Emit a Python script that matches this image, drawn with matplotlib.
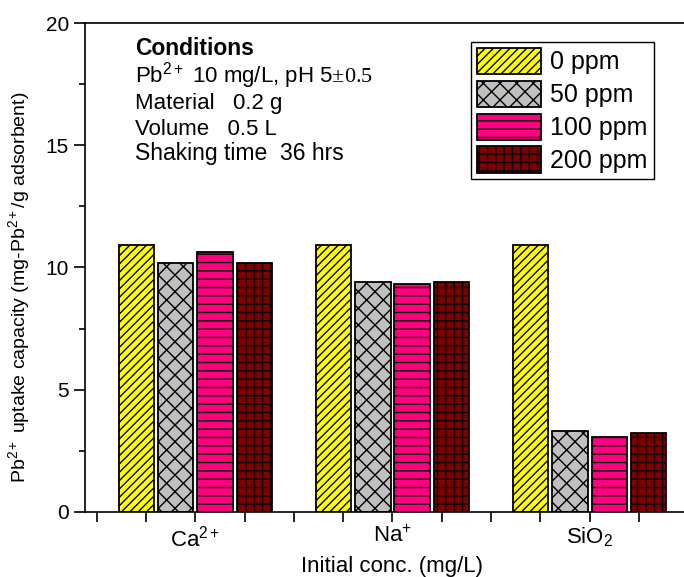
import matplotlib
matplotlib.use("Agg")
import matplotlib.pyplot as plt
import numpy as np
from matplotlib.ticker import MultipleLocator

plt.rcParams['font.family'] = ['Liberation Sans', 'DejaVu Sans']
plt.rcParams['mathtext.fontset'] = 'custom'
plt.rcParams['mathtext.rm'] = 'Liberation Sans'
plt.rcParams['mathtext.it'] = 'Liberation Sans:italic'
plt.rcParams['mathtext.bf'] = 'Liberation Sans:bold'
plt.rcParams['mathtext.cal'] = 'Liberation Serif'
plt.rcParams['hatch.linewidth'] = 1.0

# Interfering species and their concentrations
categories = [r"Ca$^{2+}$", r"Na$^{+}$", r"SiO$_2$"]
series_labels = ["0 ppm", "50 ppm", "100 ppm", "200 ppm"]
uptake = {
    "0 ppm":   [10.9, 10.9, 10.9],
    "50 ppm":  [10.2, 9.42, 3.32],
    "100 ppm": [10.63, 9.33, 3.07],
    "200 ppm": [10.18, 9.4, 3.23],
}

faces = ["#FFFF00", "#C0C0C0", "#FF0080", "#800000"]
hatches = ["////", "xx", "--", "++"]

fig = plt.figure(figsize=(6.84, 5.77), dpi=100)
ax = fig.add_axes([0.1243, 0.1127, 0.899, 0.8474])

x = np.arange(1, len(categories) + 1)
width = 0.18
offsets = [-0.3, -0.1, 0.1, 0.3]
for lab, off, fc, h in zip(series_labels, offsets, faces, hatches):
    ax.bar(x + off, uptake[lab], width, color=fc, edgecolor="black",
           hatch=h, linewidth=1.3, label=lab)

ax.set_xlim(0.44, 3.56)
ax.set_ylim(0, 20)
ax.set_xticks(x)
ax.set_xticklabels(categories)
ax.xaxis.set_minor_locator(MultipleLocator(0.25))
ax.yaxis.set_major_locator(MultipleLocator(5))
ax.yaxis.set_minor_locator(MultipleLocator(2.5))
ax.tick_params(which="both", direction="out", labelsize=15, width=1.2)
ax.tick_params(axis="y", which="major", length=8)
ax.tick_params(axis="y", which="minor", length=4)
ax.tick_params(axis="x", which="both", length=7)
ax.tick_params(axis="x", which="major", pad=3, labelsize=16)
for s in ax.spines.values():
    s.set_linewidth(1.2)

ax.set_xlabel("Initial conc. (mg/L)", fontsize=16, labelpad=3)
ax.set_ylabel(r"Pb$^{2+}$ uptake capacity (mg-Pb$^{2+}$/g adsorbent)", fontsize=14)
ax.yaxis.set_label_coords(-0.086, 0.46)

leg = ax.legend(loc="upper left", bbox_to_anchor=(0.628, 0.962), fontsize=18,
                frameon=True, fancybox=False, edgecolor="black", framealpha=1,
                handlelength=2.55, handleheight=1.25, labelspacing=0.25,
                handletextpad=0.35, borderpad=0.25, borderaxespad=0)
leg.get_frame().set_linewidth(1.0)

# Experimental conditions block
ax.text(0.081, 0.935, "Conditions", transform=ax.transAxes, fontsize=16.5,
        fontweight="bold", va="baseline")
ax.text(0.081, 0.879, r"Pb$^{2+}$ 10 mg/L, pH 5$\mathcal{±0.5}$", transform=ax.transAxes,
        fontsize=16, va="baseline")
ax.text(0.081, 0.825, "Material   0.2 g", transform=ax.transAxes, fontsize=16, va="baseline")
ax.text(0.081, 0.772, "Volume   0.5 L", transform=ax.transAxes, fontsize=16, va="baseline")
ax.text(0.081, 0.719, "Shaking time  36 hrs", transform=ax.transAxes, fontsize=16.5, va="baseline")

fig.savefig("out.png", dpi=100)
